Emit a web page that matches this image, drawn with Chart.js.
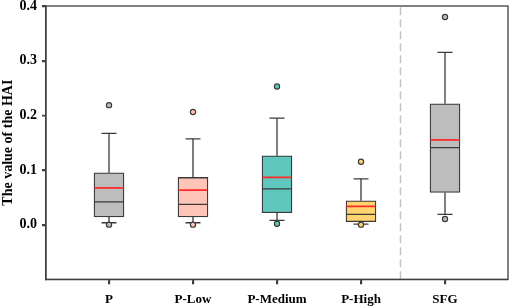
<!DOCTYPE html>
<html>
<head>
<meta charset="utf-8">
<script src="https://cdn.jsdelivr.net/npm/chart.js@4.4.1/dist/chart.umd.min.js"></script>
<style>
  html, body { margin: 0; padding: 0; background: #fff; }
  #wrap { width: 512px; height: 308px; }
</style>
</head>
<body>
<div id="wrap"><canvas id="myChart" width="512" height="308"></canvas></div>
<script>
// Box plot data
var categories = ['P', 'P-Low', 'P-Medium', 'P-High', 'SFG'];
var positions = [1, 2, 3, 4, 5];
var whiskerLow = [0.0035, 0.0035, 0.0079, 0.001, 0.0188];
var q1 = [0.0139, 0.0139, 0.0217, 0.0053, 0.059];
var median = [0.0418, 0.0371, 0.0656, 0.0188, 0.141];
var mean = [0.0674, 0.0632, 0.0864, 0.0334, 0.155];
var q3 = [0.0948, 0.0864, 0.1259, 0.0437, 0.221];
var whiskerHigh = [0.1668, 0.157, 0.1948, 0.0839, 0.315];
var outlierLow = [0.0, 0.0, 0.0016, 0.0, 0.0102];
var outlierHigh = [0.2186, 0.206, 0.2527, 0.115, 0.380];
var yTicks = [0, 0.1, 0.2, 0.3, 0.4];
var separatorAt = 4.47;

var boxColors = ['#bdbdbd', '#ffc4b8', '#5fc7bd', '#ffd470', '#bdbdbd'];
var edge = '#3a3a3a';
var serif = "'Liberation Serif', 'Times New Roman', serif";

var ctx = document.getElementById('myChart').getContext('2d');

function pts(vals) {
    return positions.map(function(p, i) { return { x: p, y: vals[i] }; });
}

// whisker stems, broken with nulls between boxes
var stems = [];
positions.forEach(function(p, i) {
    stems.push({ x: p, y: whiskerLow[i] }, { x: p, y: q1[i] }, { x: p, y: null });
    stems.push({ x: p, y: q3[i] }, { x: p, y: whiskerHigh[i] }, { x: p, y: null });
});

var outliers = pts(outlierLow).concat(pts(outlierHigh));
var outlierColors = boxColors.concat(boxColors);

// closed frame + outward tick marks
var framePlugin = {
    id: 'frame',
    afterDraw: function(chart) {
        var a = chart.chartArea, c = chart.ctx;
        var xs = chart.scales.x, ys = chart.scales.y;
        c.save();
        c.strokeStyle = '#404040';
        c.lineWidth = 1.3;
        c.strokeRect(a.left, a.top, a.right - a.left, a.bottom - a.top);
        c.beginPath();
        positions.forEach(function(p) {
            var px = Math.round(xs.getPixelForValue(p)) + 0.5;
            c.moveTo(px, a.bottom);
            c.lineTo(px, a.bottom + 5);
        });
        yTicks.forEach(function(v) {
            var py = Math.round(ys.getPixelForValue(v)) + 0.5;
            c.moveTo(a.left, py);
            c.lineTo(a.left - 4, py);
        });
        c.stroke();
        c.restore();
    }
};

var myChart = new Chart(ctx, {
    type: 'bar',
    data: {
        datasets: [
            {
                type: 'line',
                data: [{ x: separatorAt, y: -0.1 }, { x: separatorAt, y: 0.4 }],
                borderColor: '#c4c4c4',
                borderWidth: 1.5,
                borderDash: [8, 4],
                pointRadius: 0,
                order: 9
            },
            {
                type: 'line',
                data: stems,
                borderColor: edge,
                borderWidth: 1.3,
                pointRadius: 0,
                spanGaps: false,
                order: 5
            },
            {
                type: 'scatter',
                data: pts(whiskerLow).concat(pts(whiskerHigh)),
                pointStyle: 'line',
                pointRadius: 7.5,
                borderColor: edge,
                borderWidth: 1.3,
                order: 5
            },
            {
                type: 'bar',
                data: positions.map(function(p, i) { return { x: p, y: [q1[i], q3[i]] }; }),
                backgroundColor: boxColors,
                borderColor: edge,
                borderWidth: 1.3,
                borderSkipped: false,
                barThickness: 30,
                grouped: false,
                order: 3
            },
            {
                type: 'scatter',
                data: pts(median),
                pointStyle: 'line',
                pointRadius: 14.5,
                borderColor: edge,
                borderWidth: 1.3,
                order: 2
            },
            {
                type: 'scatter',
                data: pts(mean),
                pointStyle: 'line',
                pointRadius: 14.5,
                borderColor: '#ff2a2a',
                borderWidth: 1.8,
                order: 1
            },
            {
                type: 'scatter',
                data: outliers,
                pointStyle: 'circle',
                pointRadius: 2.6,
                backgroundColor: outlierColors,
                borderColor: edge,
                borderWidth: 1.2,
                order: 0
            }
        ]
    },
    options: {
        responsive: false,
        animation: false,
        events: [],
        layout: { autoPadding: false, padding: { top: 6, right: 4, left: 0, bottom: 0 } },
        plugins: {
            legend: { display: false },
            tooltip: { enabled: false }
        },
        scales: {
            x: {
                type: 'linear',
                min: 0.25,
                max: 5.75,
                offset: false,
                afterBuildTicks: function(scale) {
                    scale.ticks = positions.map(function(v) { return { value: v }; });
                },
                afterFit: function(scale) {
                    scale.height = 28.7;
                    scale.paddingLeft = 0;
                    scale.paddingRight = 0;
                },
                ticks: {
                    callback: function(v) { return categories[v - 1] || ''; },
                    color: '#000',
                    font: { family: serif, weight: 'bold', size: 13 },
                    padding: 8,
                    maxRotation: 0
                },
                grid: { offset: false, drawOnChartArea: false, drawTicks: true, tickLength: 5, color: edge, lineWidth: 1.3 },
                border: { display: true, color: edge, width: 1.3 }
            },
            y: {
                type: 'linear',
                min: -0.1,
                max: 0.4,
                afterBuildTicks: function(scale) {
                    scale.ticks = yTicks.map(function(v) { return { value: v }; });
                },
                afterFit: function(scale) {
                    scale.width = 46;
                    scale.paddingTop = 0;
                    scale.paddingBottom = 0;
                },
                ticks: {
                    callback: function(v) { return v.toFixed(1); },
                    color: '#000',
                    font: { family: serif, weight: 'bold', size: 14 },
                    padding: 5
                },
                grid: { drawOnChartArea: false, drawTicks: true, tickLength: 4, color: edge, lineWidth: 1.3 },
                border: { display: true, color: edge, width: 1.3 },
                title: {
                    display: true,
                    text: 'The value of the HAI',
                    color: '#000',
                    font: { family: serif, weight: 'bold', size: 14 },
                    padding: 0
                }
            }
        }
    },
    plugins: [framePlugin]
});
</script>
</body>
</html>
